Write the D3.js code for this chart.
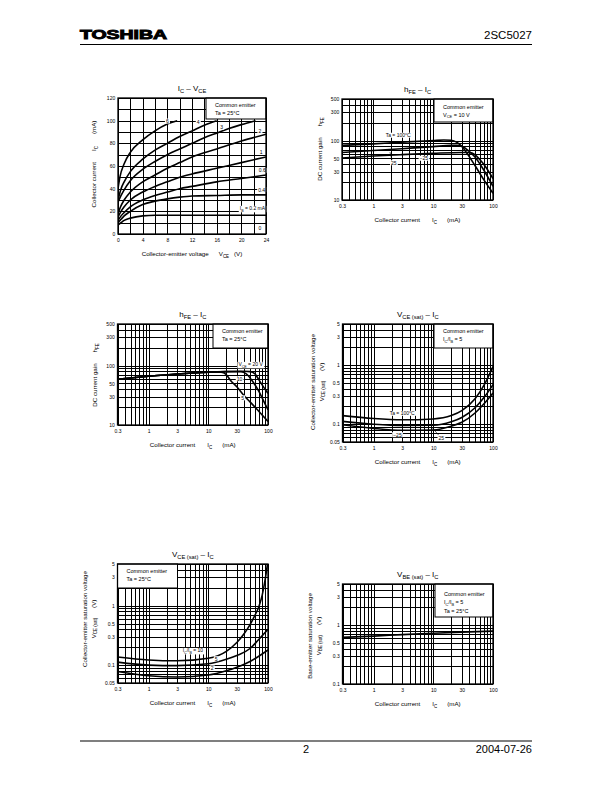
<!DOCTYPE html>
<html><head><meta charset="utf-8">
<script src="https://cdn.jsdelivr.net/npm/d3@7"></script>
<style>
body{margin:0;background:#fff}
svg{display:block}
text{font-family:"Liberation Sans",Arial,Helvetica,sans-serif;white-space:pre}
</style>
</head><body>
<svg id="page" width="612" height="792"></svg>
<script>
// ================= DATA =================
// Chart 1: IC – VCE (VCE in V, IC in mA), one curve per base current IB (mA)
const vceIb6  = [[0,40],[0.3,50],[1,62],[2,72],[4,83],[6,91],[8,97],[9.6,100]];
const vceIb4  = [[0,30],[0.5,40],[1,46],[2,55],[4,66],[6,74],[8,80],[10,86],[12,91],[14,96],[16,100]];
const vceIb3  = [[0,28],[0.5,34],[1,39],[2,47],[4,57],[6,64],[8,70],[10,75],[12,80],[14,85],[16,89],[18,93],[20,96.5],[22.3,100]];
const vceIb2  = [[0,18],[0.5,25],[1,30],[2,37],[4,46],[6,52],[8,58],[10,63],[12,68],[16,75],[20,82],[24,88]];
const vceIb1  = [[0,15],[0.5,20],[1,24],[2,30],[4,37],[6,42],[8,46],[10,50],[12,53],[16,58],[20,63],[24,68]];
const vceIb06 = [[0,12],[0.5,16],[1,19],[2,24],[4,30],[6,34],[8,37],[10,40],[12,42],[16,46],[20,49],[24,52]];
const vceIb04 = [[0,10],[0.5,13],[1,16],[2,20],[4,26],[6,29],[8,31],[10,32.5],[12,33.5],[16,34],[20,34.5],[24,34.5]];
const vceIb02 = [[0,8],[0.5,10],[1,12],[2,14],[4,16],[6,16.5],[12,16.5],[24,16.5]];
const vceTicks = [0,4,8,12,16,20,24];
const icLinTicks = [0,20,40,60,80,100,120];

// Chart 2: hFE – IC at VCE = 10 V (IC mA, hFE)
const hfeTa100 = [[0.3,83],[1,88],[3,94],[10,100],[15,102],[20,101],[25,93],[30,80],[36,63],[50,38],[70,22],[100,13]];
const hfeTa25  = [[0.3,63],[1,68],[3,73],[10,79],[20,83],[25,83],[30,80],[40,66],[50,53],[70,32],[100,17]];
const hfeTaM25 = [[0.3,51],[1,55],[3,58],[10,61],[30,63],[40,63],[50,58],[60,48],[70,40],[100,23]];

// Chart 3: hFE – IC at Ta = 25 °C, per VCE
const hfeV5  = [[0.3,59],[1,66],[3,72],[10,77],[15,78],[18,76],[20,70],[24,55],[30,44],[41,30],[50,24.5],[70,17],[100,11.5]];
const hfeV10 = [[0.3,59],[1,66],[3,72],[10,77],[20,79],[35,79],[40,76],[45,70],[50,62],[60,48],[70,37],[85,25],[100,18]];
const hfeV20 = [[0.3,59],[1,66],[3,72],[10,77],[20,79],[40,80],[50,79],[60,73],[70,58],[85,43],[100,34]];

// Chart 4: VCE(sat) – IC at IC/IB = 5, per Ta
const vsatTa100 = [[0.3,0.14],[1,0.125],[3,0.119],[10,0.123],[20,0.14],[30,0.17],[50,0.27],[70,0.45],[100,0.95]];
const vsatTa25  = [[0.3,0.112],[1,0.1],[3,0.095],[10,0.096],[20,0.11],[30,0.13],[50,0.19],[70,0.28],[100,0.47]];
const vsatTaM25 = [[0.3,0.098],[1,0.085],[3,0.079],[10,0.08],[20,0.093],[30,0.108],[50,0.155],[70,0.22],[100,0.34]];

// Chart 5: VCE(sat) – IC at Ta = 25 °C, per IC/IB
const vsatB10 = [[0.3,0.137],[1,0.122],[3,0.118],[10,0.13],[20,0.17],[30,0.24],[40,0.34],[50,0.48],[60,0.68],[70,0.95],[80,1.5],[90,2.8],[98,5]];
const vsatB5  = [[0.3,0.112],[1,0.1],[3,0.098],[10,0.105],[20,0.125],[30,0.145],[50,0.19],[70,0.27],[100,0.4]];
const vsatB2  = [[0.3,0.078],[1,0.066],[3,0.063],[10,0.068],[20,0.08],[30,0.092],[50,0.115],[100,0.18]];

// Chart 6: VBE(sat) – IC
const vbeSat = [[0.3,0.62],[1,0.65],[3,0.69],[10,0.73],[30,0.76],[100,0.79]];

// Tick labels
const icLogTicks = [0.3,1,3,10,30,100];
const hfeTicks = [10,30,50,100,300,500];
const vsatTicks = [0.05,0.1,0.3,0.5,1,3,5];
const vbeTicks = [0.1,0.3,0.5,1,3,5];

// ================= DRAWING =================
const svg = d3.select('#page');

function logGrid(lo, hi) {
  const out = [];
  for (let e = Math.floor(Math.log10(lo)); e <= Math.ceil(Math.log10(hi)); e++)
    for (let m = 1; m <= 9; m++) {
      const v = +(m * Math.pow(10, e)).toPrecision(6);
      if (v >= lo * 0.999 && v <= hi * 1.001) out.push(v);
    }
  return out;
}

function addRich(t, parts, fs) {
  let shift = 0, pend = 0;
  parts.forEach(p => {
    if (typeof p === 'number') { pend += p; return; }
    const sub = p[0] === '_';
    const txt = sub ? p.slice(1) : p;
    const target = sub ? fs * 0.3 : 0;
    const ts = t.append('tspan').text(txt).attr('font-size', sub ? fs * 0.72 : fs);
    if (target - shift) ts.attr('dy', target - shift);
    if (pend) ts.attr('dx', pend);
    shift = target; pend = 0;
  });
}

function boxedLabel(g, px, py, parts, fs) {
  const t = g.append('text').attr('x', px).attr('y', py + fs * 0.36)
    .attr('font-size', fs).attr('text-anchor', 'middle');
  addRich(t, typeof parts === 'string' ? [parts] : parts, fs);
  const b = t.node().getBBox();
  g.insert('rect', () => t.node()).attr('x', b.x - 1).attr('y', b.y + 0.5)
    .attr('width', b.width + 2).attr('height', b.height - 1).attr('fill', '#fff');
}

let clipId = 0;
function drawChart(c) {
  const g = svg.append('g');
  const x = (c.xLog ? d3.scaleLog() : d3.scaleLinear()).domain(c.xDomain).range([c.left, c.right]);
  const y = (c.yLog ? d3.scaleLog() : d3.scaleLinear()).domain(c.yDomain).range([c.bottom, c.top]);
  const w = c.right - c.left, h = c.bottom - c.top;

  g.append('rect').attr('x', c.left).attr('y', c.top).attr('width', w).attr('height', h).attr('fill', '#fff');

  const gx = g.append('g').attr('transform', `translate(0,${c.bottom})`)
    .call(d3.axisBottom(x).tickValues(c.xGrid).tickSize(-h).tickFormat(''));
  const gy = g.append('g').attr('transform', `translate(${c.left},0)`)
    .call(d3.axisLeft(y).tickValues(c.yGrid).tickSize(-w).tickFormat(''));
  [gx, gy].forEach(a => {
    a.select('.domain').remove();
    a.selectAll('line').attr('stroke', '#000').attr('stroke-width', 1).attr('shape-rendering', 'crispEdges');
  });

  const cid = 'clip' + (clipId++);
  g.append('clipPath').attr('id', cid).append('rect')
    .attr('x', c.left).attr('y', c.top).attr('width', w).attr('height', h);
  const line = d3.line().x(d => x(d[0])).y(d => y(d[1])).curve(d3.curveMonotoneX);
  g.append('g').attr('clip-path', `url(#${cid})`).selectAll('path').data(c.series).join('path')
    .attr('d', d => line(d)).attr('fill', 'none').attr('stroke', '#000').attr('stroke-width', 1.6)
    .attr('stroke-linejoin', 'round');

  (c.leaders || []).forEach(l => {
    g.append('line').attr('x1', x(l[0][0])).attr('y1', y(l[0][1])).attr('x2', x(l[1][0])).attr('y2', y(l[1][1]))
      .attr('stroke', '#000').attr('stroke-width', 0.6);
  });
  (c.labels || []).forEach(l => boxedLabel(g, x(l[1]), y(l[2]), l[0], 5));

  // legend box
  const L = c.legend;
  const lw = L.w || (c.right - L.x);
  g.append('rect').attr('x', L.x).attr('y', c.top).attr('width', lw).attr('height', L.h)
    .attr('fill', '#fff').attr('stroke', '#000').attr('stroke-width', 1);
  L.lines.forEach((ln, i) => {
    const t = g.append('text').attr('x', L.x + 9).attr('y', c.top + L.first + i * L.step).attr('font-size', 5.5);
    addRich(t, typeof ln === 'string' ? [ln] : ln, 5.5);
  });

  // frame
  g.append('rect').attr('x', c.left).attr('y', c.top).attr('width', w).attr('height', h)
    .attr('fill', 'none').attr('stroke', '#000').attr('stroke-width', 1.3);

  // tick labels
  const fmt = d => String(d);
  const tx = g.append('g').attr('transform', `translate(0,${c.bottom})`)
    .call(d3.axisBottom(x).tickValues(c.xTicks).tickSize(0).tickPadding(4.3).tickFormat(fmt));
  const ty = g.append('g').attr('transform', `translate(${c.left},0)`)
    .call(d3.axisLeft(y).tickValues(c.yTicks).tickSize(0).tickPadding(2.8).tickFormat(fmt));
  [tx, ty].forEach(a => {
    a.select('.domain').remove();
    a.attr('font-size', 5).attr('font-family', '"Liberation Sans",Arial,sans-serif');
    a.selectAll('text').attr('fill', '#000');
  });

  // title
  const cx = (c.left + c.right) / 2;
  const tt = g.append('text').attr('x', cx).attr('y', c.top - 7).attr('text-anchor', 'middle').attr('font-size', 8);
  addRich(tt, c.title, 8);
  // x label
  const xl = g.append('text').attr('x', cx).attr('y', c.bottom + 22).attr('text-anchor', 'middle').attr('font-size', 6.2);
  addRich(xl, c.xLabel, 6.2);
  // y labels
  c.yLabels.forEach(yl => {
    const t = g.append('text').attr('transform', `translate(${yl.x},${yl.cy}) rotate(-90)`)
      .attr('text-anchor', 'middle').attr('font-size', 6.2);
    addRich(t, yl.parts, 6.2);
  });
}

const icXLabel = ['Collector current', 12, 'I', '_C', 10, '(mA)'];
const icLogGrid = logGrid(0.3, 100);

const charts = [
  { left: 118, right: 266, top: 98, bottom: 234,
    xDomain: [0, 24], yDomain: [0, 120],
    xGrid: d3.range(0, 25, 2), yGrid: d3.range(0, 121, 10),
    xTicks: vceTicks, yTicks: icLinTicks,
    series: [vceIb6, vceIb4, vceIb3, vceIb2, vceIb1, vceIb06, vceIb04, vceIb02],
    labels: [['6', 8, 99.5], ['4', 13, 98.5], ['3', 16.8, 94], ['2', 23, 91], ['1', 23.2, 72],
             ['0.6', 23.4, 56], ['0.4', 23.3, 39], [['I', '_B', ' = 0.2 mA'], 21.8, 22.5], ['0', 23, 5]],
    legend: { x: 206, h: 21, first: 9, step: 8.3, lines: ['Common emitter', 'Ta = 25°C'] },
    title: ['I', '_C', ' – V', '_CE'],
    xLabel: ['Collector-emitter voltage', 10, 'V', '_CE', 5, '(V)'],
    yLabels: [{ x: 96, cy: 164, parts: ['Collector current', 11, 'I', '_C', 12, '(mA)'] }] },

  { left: 342, right: 493, top: 99, bottom: 200, xLog: true, yLog: true,
    xDomain: [0.3, 100], yDomain: [10, 500],
    xGrid: icLogGrid, yGrid: logGrid(10, 500),
    xTicks: icLogTicks, yTicks: hfeTicks,
    series: [hfeTa100, hfeTa25, hfeTaM25],
    leaders: [[[2.05, 47], [1.9, 64]]],
    labels: [[['Ta = 100°C'], 2.6, 122], ['25', 2.2, 42], ['−25', 7, 50]],
    legend: { x: 434, h: 23, first: 9.5, step: 8.3, lines: ['Common emitter', ['V', '_CE', ' = 10 V']] },
    title: ['h', '_FE', ' – I', '_C'],
    xLabel: icXLabel,
    yLabels: [{ x: 322, cy: 149, parts: ['DC current gain', 11, 'h', '_FE'] }] },

  { left: 117.5, right: 268, top: 324, bottom: 425, xLog: true, yLog: true,
    xDomain: [0.3, 100], yDomain: [10, 500],
    xGrid: icLogGrid, yGrid: logGrid(10, 500),
    xTicks: icLogTicks, yTicks: hfeTicks,
    series: [hfeV5, hfeV10, hfeV20],
    labels: [[['V', '_CE', ' = 20 V'], 51, 104], ['10', 33.3, 59.4], ['5', 37.4, 28.4]],
    legend: { x: 213, h: 24, first: 9, step: 8.3, lines: ['Common emitter', 'Ta = 25°C'] },
    title: ['h', '_FE', ' – I', '_C'],
    xLabel: icXLabel,
    yLabels: [{ x: 97, cy: 375, parts: ['DC current gain', 11, 'h', '_FE'] }] },

  { left: 342.5, right: 493, top: 324, bottom: 442, xLog: true, yLog: true,
    xDomain: [0.3, 100], yDomain: [0.05, 5],
    xGrid: icLogGrid, yGrid: logGrid(0.05, 5),
    xTicks: icLogTicks, yTicks: vsatTicks,
    series: [vsatTa100, vsatTa25, vsatTaM25],
    leaders: [[[12.5, 0.064], [9.5, 0.088]]],
    labels: [[['Ta = 100°C'], 3.0, 0.152], ['−25', 2.5, 0.066], ['25', 13.6, 0.059]],
    legend: { x: 434, h: 24, first: 9, step: 8.3, lines: ['Common emitter', ['I', '_C', '/I', '_B', ' = 5']] },
    title: ['V', '_CE (sat)', ' – I', '_C'],
    xLabel: icXLabel,
    yLabels: [{ x: 315, cy: 382, parts: ['Collector-emitter saturation voltage'] },
              { x: 323.5, cy: 382, parts: ['V', '_CE (sat)', 10, '(V)'] }] },

  { left: 117.5, right: 268, top: 564, bottom: 683, xLog: true, yLog: true,
    xDomain: [0.3, 100], yDomain: [0.05, 5],
    xGrid: icLogGrid, yGrid: logGrid(0.05, 5),
    xTicks: icLogTicks, yTicks: vsatTicks,
    series: [vsatB10, vsatB5, vsatB2],
    labels: [[['I', '_C', '/I', '_B', ' = 10'], 5.5, 0.175], ['5', 13.5, 0.127], ['2', 11.6, 0.089]],
    legend: { x: 117.5, w: 60, h: 24, first: 9, step: 8.3, lines: ['Common emitter', 'Ta = 25°C'] },
    title: ['V', '_CE (sat)', ' – I', '_C'],
    xLabel: icXLabel,
    yLabels: [{ x: 87, cy: 619, parts: ['Collector-emitter saturation voltage'] },
              { x: 95.5, cy: 619, parts: ['V', '_CE (sat)', 10, '(V)'] }] },

  { left: 342.5, right: 493, top: 584, bottom: 684, xLog: true, yLog: true,
    xDomain: [0.3, 100], yDomain: [0.1, 5],
    xGrid: icLogGrid, yGrid: logGrid(0.1, 5),
    xTicks: icLogTicks, yTicks: vbeTicks,
    series: [vbeSat],
    labels: [],
    legend: { x: 435, h: 33, first: 11.5, step: 8.6,
              lines: ['Common emitter', ['I', '_C', '/I', '_B', ' = 5'], 'Ta = 25°C'] },
    title: ['V', '_BE (sat)', ' – I', '_C'],
    xLabel: icXLabel,
    yLabels: [{ x: 312, cy: 636, parts: ['Base-emitter saturation voltage'] },
              { x: 320.5, cy: 636, parts: ['V', '_BE (sat)', 10, '(V)'] }] }
];
charts.forEach(drawChart);

// ---------- header / footer ----------
svg.append('text').attr('x', 80).attr('y', 38.5).attr('font-size', 12).attr('font-weight', 'bold')
  .attr('textLength', 87).attr('lengthAdjust', 'spacingAndGlyphs')
  .attr('stroke', '#000').attr('stroke-width', 0.9).text('TOSHIBA');
svg.append('text').attr('x', 532).attr('y', 38.5).attr('font-size', 11.5).attr('text-anchor', 'end').text('2SC5027');
svg.append('line').attr('x1', 80).attr('x2', 532).attr('y1', 44.5).attr('y2', 44.5).attr('stroke', '#000').attr('stroke-width', 1.2);
svg.append('line').attr('x1', 80).attr('x2', 532).attr('y1', 741).attr('y2', 741).attr('stroke', '#000').attr('stroke-width', 1.2);
svg.append('text').attr('x', 306).attr('y', 753).attr('font-size', 11).attr('text-anchor', 'middle').text('2');
svg.append('text').attr('x', 532).attr('y', 753).attr('font-size', 11).attr('text-anchor', 'end').text('2004-07-26');
</script>
</body></html>
